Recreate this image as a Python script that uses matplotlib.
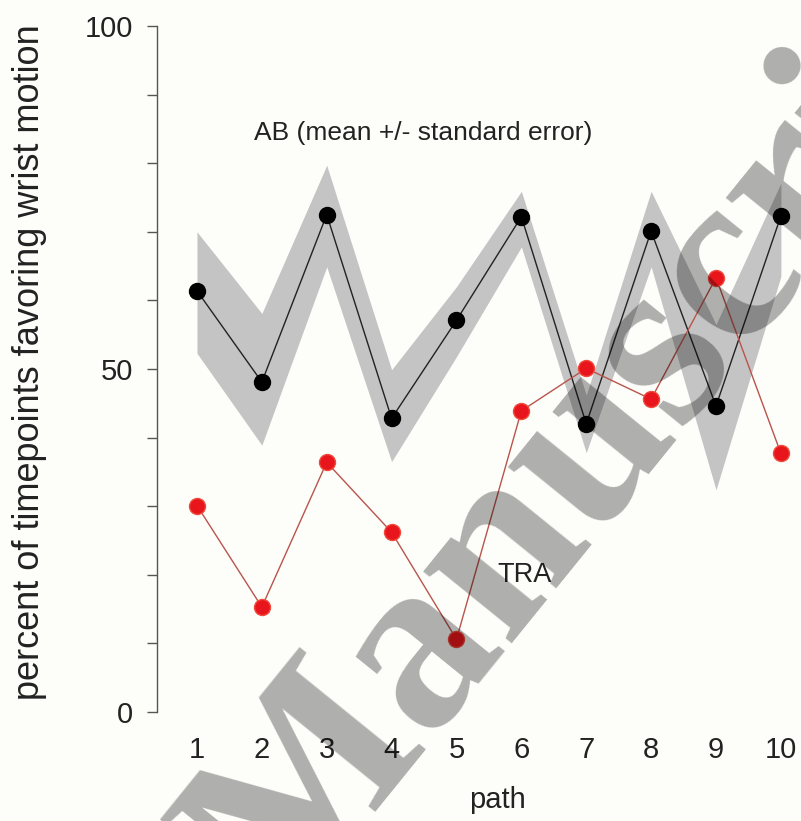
import matplotlib.pyplot as plt
from matplotlib.ticker import MultipleLocator

plt.rcParams['font.family'] = ['Liberation Sans', 'DejaVu Sans']

# data
paths = [1, 2, 3, 4, 5, 6, 7, 8, 9, 10]
ab_mean = [61.4, 48.1, 72.5, 42.8, 57.1, 72.2, 42.0, 70.1, 44.6, 72.3]
ab_upper = [70.0, 58.1, 79.7, 49.9, 62.0, 75.9, 46.2, 75.9, 56.5, 77.1]
ab_lower = [52.3, 38.9, 64.9, 36.5, 51.8, 67.8, 37.8, 64.9, 32.4, 63.5]
tra = [30.1, 15.3, 36.4, 26.2, 10.6, 43.9, 50.1, 45.6, 63.3, 37.7]

W, H = 801, 821
bg = '#fdfdfa'
fig = plt.figure(figsize=(W / 100, H / 100), dpi=100, facecolor=bg)
ax = fig.add_axes([157 / W, 109 / H, 644 / W, 686 / H])
ax.set_facecolor(bg)

# AB: mean line with shaded standard error band
ax.fill_between(paths, ab_lower, ab_upper, color='#c4c4c4', linewidth=0, zorder=1)
ax.plot(paths, ab_mean, '-', color='#222222', linewidth=1.0, zorder=3)
ax.plot(paths, ab_mean, 'o', color='black', markersize=11.5, zorder=4)

# TRA: single subject
ax.plot(paths, tra, '-', color='#b9544c', linewidth=1.0, zorder=3)
ax.plot(paths, tra, 'o', color='#e8161c', markeredgecolor='#f04a3c',
        markeredgewidth=1.0, markersize=11.5, zorder=4)

ax.set_xlim(0.384, 10.31)
ax.set_ylim(0, 100)
for side in ['top', 'right', 'bottom']:
    ax.spines[side].set_visible(False)
ax.spines['left'].set_color('#555555')
ax.spines['left'].set_linewidth(1.0)

ax.set_yticks([0, 50, 100])
ax.yaxis.set_minor_locator(MultipleLocator(10))
ax.tick_params(axis='y', which='both', direction='out', length=7, width=1.0,
               color='#555555', labelsize=21, pad=10, labelcolor='#222222')
ax.set_xticks(paths)
ax.set_xticklabels([str(p) for p in paths])
ax.tick_params(axis='x', length=0, labelsize=21, pad=17, labelcolor='#222222')

# axis titles placed in figure pixels
fig.text(497 / W, 1 - 800 / H, 'path', fontsize=21, color='#222222',
         ha='center', va='center')
fig.text(30 / W, 1 - 362 / H, 'percent of timepoints favoring wrist motion',
         fontsize=26, color='#222222', rotation=90, ha='center', va='center')

ax.text(4.48, 84.4, 'AB (mean +/- standard error)', fontsize=19,
        color='#222222', ha='center', va='center')
ax.text(6.05, 20.0, 'TRA', fontsize=19.5, color='#222222', ha='center', va='center')

# watermark
fig.text(283 / W, 1 - 922 / H, 'Manuscript', fontsize=178, fontweight='bold',
         family=['Liberation Serif', 'DejaVu Serif'],
         rotation=51, rotation_mode='anchor', ha='left', va='baseline',
         color='black', alpha=0.31, zorder=10)

fig.savefig('out.png', dpi=100, facecolor=bg)
